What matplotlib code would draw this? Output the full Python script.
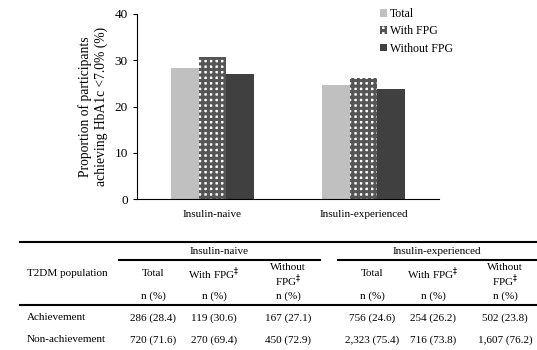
import matplotlib
matplotlib.use("Agg")
import matplotlib.pyplot as plt
from matplotlib.lines import Line2D
import numpy as np

plt.rcParams['font.family'] = ['Liberation Serif', 'DejaVu Serif']
plt.rcParams['hatch.linewidth'] = 2.2

# chart data
groups = ["Insulin-naive", "Insulin-experienced"]
series = ["Total", "With FPG", "Without FPG"]
total_pct = [28.4, 24.6]
with_fpg_pct = [30.6, 26.2]
without_fpg_pct = [27.1, 23.8]

# table data
row_labels = ["Achievement", "Non-achievement"]
naive_cells = [["286 (28.4)", "119 (30.6)", "167 (27.1)"],
               ["720 (71.6)", "270 (69.4)", "450 (72.9)"]]
exp_cells = [["756 (24.6)", "254 (26.2)", "502 (23.8)"],
             ["2,323 (75.4)", "716 (73.8)", "1,607 (76.2)"]]

W, H = 537, 350
fig = plt.figure(figsize=(W / 100, H / 100), dpi=100)

def fx(px):
    return px / W

def fy(py):
    return 1 - py / H

ax = fig.add_axes([fx(137), fy(199), fx(439) - fx(137), fy(14) - fy(199)])

x = np.arange(len(groups))
w = 0.182
ax.bar(x - w, total_pct, w, color="#c0c0c0", label=series[0])
ax.bar(x, with_fpg_pct, w, color="white", edgecolor="#555555", linewidth=0,
       hatch="+++", label=series[1])
ax.bar(x + w, without_fpg_pct, w, color="#404040", label=series[2])

ax.set_xlim(-0.5, 1.5)
ax.set_ylim(0, 40)
ax.set_yticks([0, 10, 20, 30, 40])
ax.set_xticks(x)
ax.set_xticklabels(groups, fontsize=8)
ax.tick_params(axis="x", length=0, pad=8)
ax.tick_params(axis="y", labelsize=9.5, length=3, direction="out")
for s in ["top", "right"]:
    ax.spines[s].set_visible(False)
ax.set_ylabel("Proportion of participants\nachieving HbA1c <7.0% (%)", fontsize=9.8,
              labelpad=5, linespacing=1.25)

leg = ax.legend(loc="upper left", bbox_to_anchor=(0.77, 1.09), frameon=False, fontsize=8.5,
                handlelength=0.6, handleheight=0.6, handletextpad=0.2, labelspacing=0.45)

# table
fs = 8
def hline(x0, x1, y, lw=1.5):
    fig.add_artist(Line2D([fx(x0), fx(x1)], [fy(y), fy(y)], color="black", linewidth=lw))

hline(20, 537, 242)
hline(119, 320, 260)
hline(338, 537, 260)
hline(20, 537, 305)

fig.text(fx(219), fy(252), "Insulin-naive", ha="center", va="center", fontsize=fs)
fig.text(fx(437), fy(252), "Insulin-experienced", ha="center", va="center", fontsize=fs)
fig.text(fx(27), fy(274), "T2DM population", ha="left", va="center", fontsize=fs)

col_x = [153, 214, 288, 372, 433, 505]
for i, cx in enumerate(col_x):
    k = i % 3
    if k == 0:
        fig.text(fx(cx), fy(274), "Total", ha="center", va="center", fontsize=fs)
    elif k == 1:
        fig.text(fx(cx), fy(274), "With FPG$^{\u2021}$", ha="center", va="center", fontsize=fs)
    else:
        fig.text(fx(cx), fy(267), "Without", ha="center", va="center", fontsize=fs)
        fig.text(fx(cx), fy(281), "FPG$^{\u2021}$", ha="center", va="center", fontsize=fs)
    fig.text(fx(cx), fy(296), "n (%)", ha="center", va="center", fontsize=fs)

row_y = [318, 340]
for r, lab in enumerate(row_labels):
    fig.text(fx(27), fy(row_y[r]), lab, ha="left", va="center", fontsize=fs)
    vals = naive_cells[r] + exp_cells[r]
    for cx, v in zip(col_x, vals):
        fig.text(fx(cx), fy(row_y[r]), v, ha="center", va="center", fontsize=fs)

fig.savefig("out.png", dpi=100)
